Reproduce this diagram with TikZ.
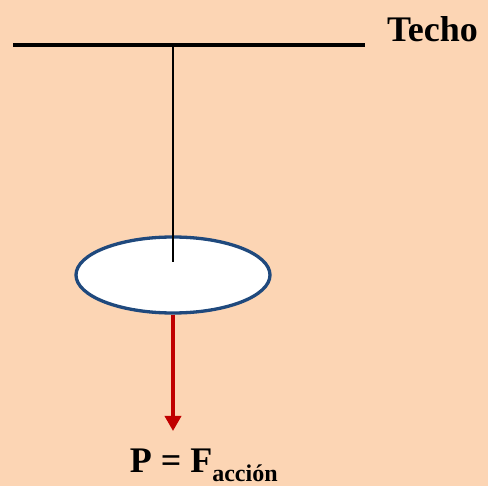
\documentclass[tikz,border=0pt]{standalone}
\usepackage{fontspec}
\setmainfont{Liberation Serif}
\usetikzlibrary{shapes.geometric,arrows.meta}
\definecolor{bgpeach}{HTML}{FCD5B4}
\definecolor{ringblue}{HTML}{1F497D}
\definecolor{forcered}{HTML}{C00000}
\tikzset{
  lbl/.style={font=\bfseries\fontsize{36}{40}\selectfont, inner sep=0pt},
  ring/.style={ellipse, draw=ringblue, line width=3.3pt, fill=white, minimum width=194pt, minimum height=76pt, inner sep=0pt},
}
\begin{document}
\begin{tikzpicture}[x=1pt,y=-1pt]
\fill[bgpeach] (0,0) rectangle (488,486);
\useasboundingbox (0,0) rectangle (488,486);
\coordinate (cl) at (13,45);
\coordinate (cr) at (365,45);
\coordinate (hook) at (173,45);
\coordinate (knot) at (173,262);
\coordinate (tip) at (173,431);
\draw[line width=4pt] (cl) -- (cr);
\node[lbl, anchor=base west] (techo) at (387,42) {Techo};
\node[ring] (disk) at (173,275) {};
\draw[line width=1.6pt] (hook) -- (knot);
\draw[forcered, line width=3.5pt, -{Triangle[length=15pt,width=16pt]}] (disk.south) -- (tip);
\node[lbl, anchor=base] (force) at (204,473) {P = F\textsubscript{\fontsize{24}{28}\selectfont acción}};
\end{tikzpicture}
\end{document}
